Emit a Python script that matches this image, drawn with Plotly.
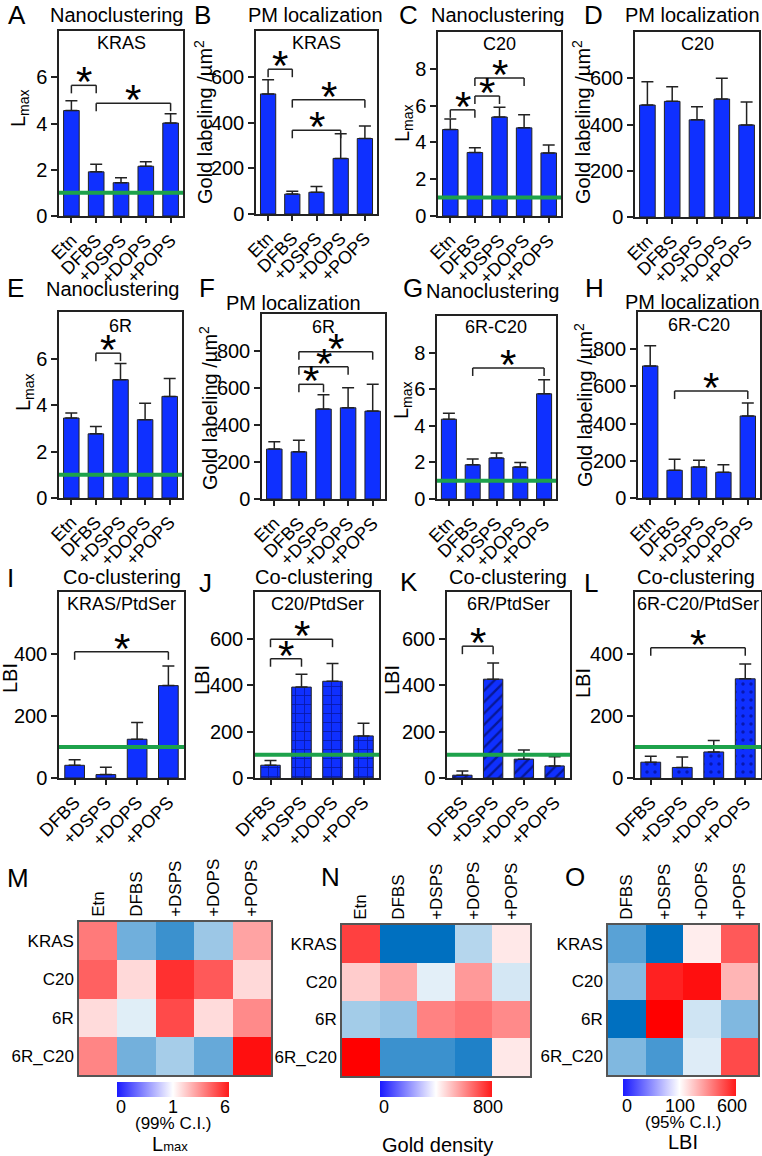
import plotly.graph_objects as go

W, H = 762, 1156

# ---------------- data ----------------
treat5 = ["Etn", "DFBS", "+DSPS", "+DOPS", "+POPS"]
treat4 = ["DFBS", "+DSPS", "+DOPS", "+POPS"]

kras_lmax = [4.56, 1.91, 1.44, 2.15, 4.02]
kras_lmax_err = [0.42, 0.33, 0.21, 0.20, 0.40]
kras_gold = [525, 87, 95, 243, 330]
kras_gold_err = [62, 12, 25, 108, 55]
c20_lmax = [4.70, 3.45, 5.38, 4.79, 3.43]
c20_lmax_err = [0.57, 0.26, 0.53, 0.71, 0.43]
c20_gold = [484, 500, 420, 510, 398]
c20_gold_err = [101, 63, 57, 90, 99]
r6_lmax = [3.44, 2.76, 5.09, 3.37, 4.37]
r6_lmax_err = [0.22, 0.31, 0.70, 0.70, 0.77]
r6_gold = [270, 255, 486, 493, 475]
r6_gold_err = [39, 63, 77, 109, 145]
r6c20_lmax = [4.36, 1.87, 2.24, 1.75, 5.75]
r6c20_lmax_err = [0.33, 0.31, 0.27, 0.25, 0.76]
r6c20_gold = [710, 149, 167, 138, 441]
r6c20_gold_err = [108, 59, 36, 41, 70]

kras_lbi = [41, 11, 125, 298]
kras_lbi_err = [18, 24, 54, 63]
c20_lbi = [55, 391, 416, 181]
c20_lbi_err = [20, 55, 77, 54]
r6_lbi = [12, 425, 81, 52]
r6_lbi_err = [18, 70, 39, 39]
r6c20_lbi = [51, 34, 84, 320]
r6c20_lbi_err = [19, 34, 37, 48]

lmax_ref = 1
lbi_ref = 100

# significance brackets: (from index, to index, bracket height)
sig_A = [(0, 1, 5.65), (1, 4, 4.88)]
sig_B = [(0, 1, 633), (1, 4, 500), (1, 3, 366)]
sig_C = [(0, 1, 5.77), (1, 2, 6.52), (1, 3, 7.5)]
sig_D = []
sig_E = [(1, 2, 6.23)]
sig_F = [(1, 2, 620), (1, 3, 715), (1, 4, 796)]
sig_G = [(1, 4, 7.16)]
sig_H = [(1, 4, 575)]
sig_I = [(0, 3, 407)]
sig_J = [(0, 1, 513), (0, 2, 597)]
sig_K = [(0, 1, 567)]
sig_L = [(0, 3, 420)]

# heatmaps (colour score, -1 = blue, 0 = white, +1 = red)
heat_rows = ["KRAS", "C20", "6R", "6R_C20"]
lmax_heat = [
    [0.52, -0.56, -0.77, -0.39, 0.36],
    [0.62, 0.15, 0.81, 0.65, 0.15],
    [0.14, -0.12, 0.71, 0.14, 0.46],
    [0.48, -0.55, -0.35, -0.60, 0.94],
]
gold_heat = [
    [0.75, -1.0, -1.0, -0.29, 0.09],
    [0.20, 0.34, -0.11, 0.40, -0.17],
    [-0.36, -0.42, 0.49, 0.55, 0.46],
    [1.0, -0.77, -0.77, -0.88, 0.09],
]
lbi_heat = [
    [-0.65, -1.0, 0.07, 0.65],
    [-0.48, 0.87, 0.94, 0.29],
    [-1.0, 1.0, -0.19, -0.50],
    [-0.50, -0.72, -0.13, 0.71],
]
m_cbar_labels = ["0", "1", "6"]
n_cbar_labels = ["0", "800"]
o_cbar_labels = ["0", "100", "600"]

# ---------------- styling ----------------
FONT = "Liberation Sans, Arial, sans-serif"
BLUE = "#0f30ff"
GREEN = "#1da24b"
LINE = "#222222"
CELL = [[0, "#0070c0"], [0.5, "#ffffff"], [1, "#ff0000"]]
CBAR = [[0, "#1a1aff"], [0.5, "#ffffff"], [1, "#ff1a1a"]]

fig = go.Figure()
axes = {}
shapes = []
annotations = []


def xd(x0, x1):
    return [x0 / W, x1 / W]


def yd(y0, y1):
    return [1 - y1 / H, 1 - y0 / H]


def px(x):
    return x / W


def py(y):
    return 1 - y / H


def refs(n):
    key = "" if n == 1 else str(n)
    return "x" + key, "y" + key, key


def text(t, x, y, size, angle=0, xanchor="center"):
    annotations.append(dict(xref="paper", yref="paper", x=px(x), y=py(y),
                            text=t, showarrow=False, xanchor=xanchor,
                            yanchor="middle", textangle=angle,
                            font=dict(size=size, family=FONT, color="#000")))


def bar_panel(n, cats, vals, errs, frame, ymax, ticks, ref, sig, pattern=None):
    x0, x1, y0, y1 = frame
    xa, ya, key = refs(n)
    marker = dict(color=BLUE, line=dict(color=LINE, width=1))
    if pattern:
        marker["pattern"] = pattern
    fig.add_trace(go.Bar(
        x=cats, y=vals, width=0.63, marker=marker,
        error_y=dict(type="data", symmetric=False, array=errs,
                     arrayminus=[0] * len(errs), color=LINE,
                     thickness=1.5, width=6),
        xaxis=xa, yaxis=ya, showlegend=False))
    axes["xaxis" + key] = dict(
        domain=xd(x0, x1), anchor=ya, type="category",
        range=[-0.5, len(cats) - 0.5], tickangle=-45, ticks="outside",
        ticklen=5, tickwidth=1.5, tickcolor=LINE, showline=True, mirror=True,
        linecolor=LINE, linewidth=1.5, tickfont=dict(size=18), showgrid=False)
    axes["yaxis" + key] = dict(
        domain=yd(y0, y1), anchor=xa, range=[0, ymax], tickvals=ticks,
        ticks="outside", ticklen=6, tickwidth=1.5, tickcolor=LINE,
        showline=True, mirror=True, linecolor=LINE, linewidth=1.5,
        tickfont=dict(size=20), showgrid=False, zeroline=False)
    if ref is not None:
        shapes.append(dict(type="line", xref=f"{xa} domain", yref=ya,
                           x0=0, x1=1, y0=ref, y1=ref,
                           line=dict(color=GREEN, width=4)))
    leg = ymax * 8 / (y1 - y0)
    for i, j, yt in sig:
        for a, b, c, d in [(i, yt - leg, i, yt), (i, yt, j, yt), (j, yt, j, yt - leg)]:
            shapes.append(dict(type="line", xref=xa, yref=ya, x0=a, y0=b,
                               x1=c, y1=d, line=dict(color=LINE, width=1.5)))
        annotations.append(dict(xref=xa, yref=ya, x=(i + j) / 2, y=yt,
                                text="*", showarrow=False, yanchor="bottom",
                                yshift=-22, font=dict(size=42, family=FONT)))


bar_panel(1, treat5, kras_lmax, kras_lmax_err, (59, 183, 31, 216), 8, [0, 2, 4, 6], lmax_ref, sig_A)
bar_panel(2, treat5, kras_gold, kras_gold_err, (256, 377, 31, 214), 800, [0, 200, 400, 600], None, sig_B)
bar_panel(3, treat5, c20_lmax, c20_lmax_err, (438, 561, 32, 216), 10, [0, 2, 4, 6, 8], lmax_ref, sig_C)
bar_panel(4, treat5, c20_gold, c20_gold_err, (635, 759, 32, 217), 800, [0, 200, 400, 600], None, sig_D)
bar_panel(5, treat5, r6_lmax, r6_lmax_err, (59, 182, 312, 498), 8, [0, 2, 4, 6], lmax_ref, sig_E)
bar_panel(6, treat5, r6_gold, r6_gold_err, (262, 385, 314, 499), 1000, [0, 200, 400, 600, 800], None, sig_F)
bar_panel(7, treat5, r6c20_lmax, r6c20_lmax_err, (437, 556, 316, 499), 10, [0, 2, 4, 6, 8], lmax_ref, sig_G)
bar_panel(8, treat5, r6c20_gold, r6c20_gold_err, (638, 760, 312, 498), 1000, [0, 200, 400, 600, 800], None, sig_H)
bar_panel(9, treat4, kras_lbi, kras_lbi_err, (59, 184, 592, 778), 600, [0, 200, 400], lbi_ref, sig_I)
bar_panel(10, treat4, c20_lbi, c20_lbi_err, (255, 379, 592, 778), 800, [0, 200, 400, 600], lbi_ref, sig_J,
          pattern=dict(shape="+", fgcolor="#000050", size=9, solidity=0.18))
bar_panel(11, treat4, r6_lbi, r6_lbi_err, (447, 570, 592, 778), 800, [0, 200, 400, 600], lbi_ref, sig_K,
          pattern=dict(shape="/", fgcolor="#000030", size=8, solidity=0.3))
bar_panel(12, treat4, r6c20_lbi, r6c20_lbi_err, (635, 761, 592, 778), 600, [0, 200, 400], lbi_ref, sig_L,
          pattern=dict(shape=".", fgcolor="#000060", size=8, solidity=0.15))


def heat_panel(n, cols, z, frame, cbar, labels):
    x0, x1, y0, y1 = frame
    cx0, cx1, cy0, cy1 = cbar
    xa, ya, key = refs(n)
    fig.add_trace(go.Heatmap(z=z, x=cols, y=heat_rows, colorscale=CELL,
                             zmin=-1, zmax=1, showscale=False,
                             xaxis=xa, yaxis=ya))
    fig.add_trace(go.Scatter(
        x=[None], y=[None], mode="markers", showlegend=False, hoverinfo="skip",
        xaxis=xa, yaxis=ya,
        marker=dict(color=[0], colorscale=CBAR, cmin=0, cmax=len(labels) - 1,
                    showscale=True,
                    colorbar=dict(orientation="h", x=px((cx0 + cx1) / 2),
                                  xanchor="center", y=py(cy0), yanchor="top",
                                  len=(cx1 - cx0) / W, lenmode="fraction",
                                  thickness=cy1 - cy0, thicknessmode="pixels",
                                  outlinewidth=0, ticks="",
                                  showticklabels=False,
                                  xpad=0, ypad=0))))
    # colour-bar labels
    for k, lab in enumerate(labels):
        xl = cx0 + (cx1 - cx0) * k / (len(labels) - 1)
        text(lab, xl + 4 - 8 * k / (len(labels) - 1), cy1 + 10, 18)
    axes["xaxis" + key] = dict(domain=xd(x0, x1), anchor=ya, side="top",
                               tickangle=-90, ticks="", showline=True, mirror=True,
                               linecolor="#555555", linewidth=1.5,
                               tickfont=dict(size=17), showgrid=False)
    axes["yaxis" + key] = dict(domain=yd(y0, y1), anchor=xa, autorange="reversed",
                               ticks="", showline=True, mirror=True,
                               linecolor="#555555", linewidth=1.5,
                               tickfont=dict(size=17), showgrid=False)


heat_panel(13, treat5, lmax_heat, (79, 271, 922, 1075), (117, 229, 1082, 1097), m_cbar_labels)
heat_panel(14, treat5, gold_heat, (342, 530, 925, 1076), (380, 492, 1081, 1097), n_cbar_labels)
heat_panel(15, treat4, lbi_heat, (608, 758, 925, 1075), (623, 736, 1079, 1096), o_cbar_labels)


letters = [("A", 17, 15), ("B", 202, 15), ("C", 408, 15), ("D", 593, 15),
           ("E", 15, 288), ("F", 207, 288), ("G", 413, 288), ("H", 594, 288),
           ("I", 10, 578), ("J", 205, 583), ("K", 409, 582), ("L", 591, 583),
           ("M", 18, 878), ("N", 330, 877), ("O", 575, 877)]
for t, x, y in letters:
    text(t, x, y, 26)

titles = [("Nanoclustering", 116, 15), ("PM localization", 315, 15),
          ("Nanoclustering", 497, 15), ("PM localization", 692, 15),
          ("Nanoclustering", 112, 289), ("PM localization", 293, 303),
          ("Nanoclustering", 492, 291), ("PM localization", 692, 302),
          ("Co-clustering", 122, 577), ("Co-clustering", 314, 577),
          ("Co-clustering", 508, 577), ("Co-clustering", 696, 577)]
for t, x, y in titles:
    text(t, x, y, 20)

inner = [("KRAS", 121, 43), ("KRAS", 316, 43), ("C20", 499, 44), ("C20", 697, 44),
         ("6R", 120, 326), ("6R", 323, 327), ("6R-C20", 496, 327), ("6R-C20", 699, 325),
         ("KRAS/PtdSer", 121, 604), ("C20/PtdSer", 317, 604),
         ("6R/PtdSer", 508, 604), ("6R-C20/PtdSer", 698, 604)]
for t, x, y in inner:
    text(t, x, y, 18)

LM = "L<sub>max</sub>"
GL = "Gold labeling /µm<sup>2</sup>"
ytitles = [(LM, 20, 108), (GL, 204, 122), (LM, 403, 123), (GL, 582, 122),
           (LM, 24, 392), (GL, 208, 408), (LM, 403, 400), (GL, 583, 405),
           ("LBI", 10, 678), ("LBI", 202, 680), ("LBI", 392, 680), ("LBI", 583, 683)]
for t, x, y in ytitles:
    text(t, x, y, 20, angle=-90)

text("(99% C.I.)", 173, 1123, 17)
text("L<span style='font-size:13px'>max</span>", 170, 1144, 20)
text("Gold density", 437, 1145, 20)
text("(95% C.I.)", 683, 1122, 17)
text("LBI", 683, 1142, 20)

fig.update_layout(
    width=W, height=H, margin=dict(l=0, r=0, t=0, b=0, autoexpand=False),
    paper_bgcolor="white", plot_bgcolor="white", showlegend=False,
    font=dict(family=FONT, color="#000"),
    shapes=shapes, annotations=annotations, **axes)

fig.write_html("out.html", config={"displayModeBar": False},
               post_script="document.body.style.margin='0';document.body.style.padding='0';")
